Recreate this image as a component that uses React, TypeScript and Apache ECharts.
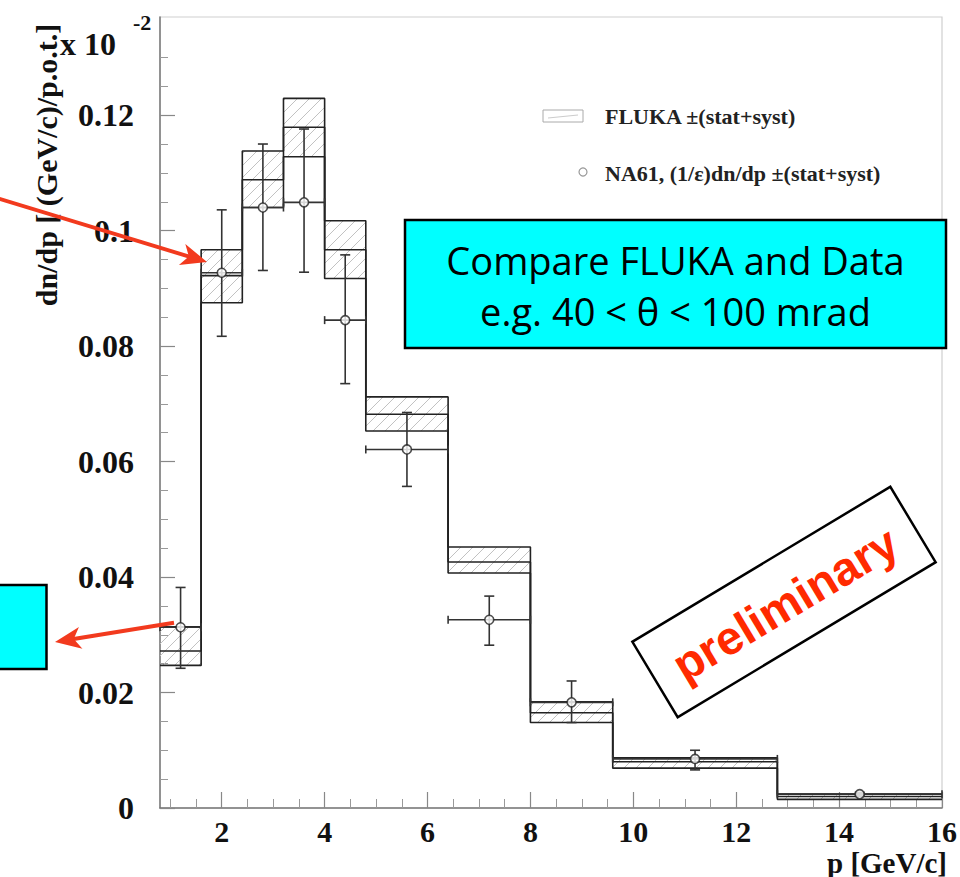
import React, { useEffect, useRef } from 'react';
import * as echarts from 'echarts';

// ---- data ----
const binLow = [0.8, 1.6, 2.4, 3.2, 4.0, 4.8, 6.4, 8.0, 9.6, 12.8];
const binHigh = [1.6, 2.4, 3.2, 4.0, 4.8, 6.4, 8.0, 9.6, 12.8, 16.0];
const flukaCentral = [0.0272, 0.0922, 0.1088, 0.1179, 0.0967, 0.0682, 0.0426, 0.0165, 0.0080, 0.0020];
const flukaUpper = [0.0314, 0.0967, 0.1138, 0.1229, 0.1017, 0.0712, 0.0452, 0.0184, 0.0087, 0.0024];
const flukaLower = [0.0247, 0.0875, 0.1040, 0.1128, 0.0917, 0.0653, 0.0407, 0.0148, 0.0069, 0.0015];
const dataP = [1.2, 2.0, 2.8, 3.6, 4.4, 5.6, 7.2, 8.8, 11.2, 14.4];
const dataValue = [0.0313, 0.0927, 0.1040, 0.1049, 0.0845, 0.0621, 0.0326, 0.0183, 0.0085, 0.0024];
const dataErrUp = [0.0382, 0.1036, 0.1150, 0.1176, 0.0958, 0.0685, 0.0367, 0.0220, 0.0100, 0.0027];
const dataErrDown = [0.0242, 0.0817, 0.0931, 0.0928, 0.0735, 0.0557, 0.0282, 0.0148, 0.0066, 0.0021];
const xMajorTicks = [2, 4, 6, 8, 10, 12, 14, 16];
const xMinorTicks = [1, 1.5, 2.5, 3, 3.5, 4.5, 5, 5.5, 6.5, 7, 7.5, 8.5, 9, 9.5, 10.5, 11, 11.5, 12.5, 13, 13.5, 14.5, 15, 15.5];
const yMajorTicks = [0, 0.02, 0.04, 0.06, 0.08, 0.1, 0.12];
const yMinorTicks = [0.005, 0.01, 0.015, 0.025, 0.03, 0.035, 0.045, 0.05, 0.055, 0.065, 0.07, 0.075, 0.085, 0.09, 0.095, 0.105, 0.11, 0.115, 0.125, 0.13];

const serif = '"Liberation Serif", "Times New Roman", serif';
const red = '#f23a1e';

function stepData(vals: number[]) {
  const d: number[][] = binLow.map((x, i) => [x, vals[i]]);
  d.push([binHigh[binHigh.length - 1], vals[vals.length - 1]]);
  return d;
}

function arrowHead(sx: number, sy: number, tx: number, ty: number, len: number, half: number, notch: number) {
  const dx = tx - sx, dy = ty - sy;
  const L = Math.hypot(dx, dy);
  const ux = dx / L, uy = dy / L;
  const nx = -uy, ny = ux;
  const bx = tx - len * ux, by = ty - len * uy;
  return [
    [tx, ty],
    [bx + half * nx, by + half * ny],
    [tx - notch * ux, ty - notch * uy],
    [bx - half * nx, by - half * ny],
  ];
}

export default function App() {
  const ref = useRef<HTMLDivElement>(null);
  useEffect(() => {
    if (!ref.current) return;
    const chart = echarts.init(ref.current, undefined, { renderer: 'svg' });
    const lineSeries = (vals: number[]) => ({
      type: 'line',
      step: 'end',
      showSymbol: false,
      symbol: 'none',
      data: stepData(vals),
      lineStyle: { color: '#222', width: 1.6 },
      z: 3,
      silent: true,
    });
    const a1 = arrowHead(0, 199, 207, 262, 26, 11, 19);
    const a2 = arrowHead(173, 623, 55, 642, 26, 11, 19);
    const option: any = {
      animation: false,
      backgroundColor: '#fff',
      grid: { left: 160, right: 12, top: 17, bottom: 69, show: true, borderColor: '#cfcfcf', borderWidth: 1.2 },
      xAxis: [
        {
          type: 'value', min: 0.8, max: 16, position: 'bottom',
          axisLine: { show: true, lineStyle: { color: '#777', width: 1.5 } },
          axisTick: { show: true, inside: true, length: 16, customValues: xMajorTicks, lineStyle: { color: '#888', width: 1.2 } },
          axisLabel: { show: true, customValues: xMajorTicks, margin: 11, lineHeight: 24, fontFamily: serif, fontWeight: 'bold', fontSize: 30, color: '#111' },
          splitLine: { show: false },
        },
        {
          type: 'value', min: 0.8, max: 16, position: 'bottom',
          axisLine: { show: false },
          axisTick: { show: true, inside: true, length: 9, customValues: xMinorTicks, lineStyle: { color: '#999', width: 1 } },
          axisLabel: { show: false },
          splitLine: { show: false },
        },
      ],
      yAxis: [
        {
          type: 'value', min: 0, max: 0.137, position: 'left',
          axisLine: { show: true, lineStyle: { color: '#777', width: 1.5 } },
          axisTick: { show: true, inside: true, length: 15, customValues: yMajorTicks, lineStyle: { color: '#888', width: 1.2 } },
          axisLabel: {
            show: true, customValues: yMajorTicks, margin: 26, fontFamily: serif, fontWeight: 'bold', fontSize: 32, color: '#111',
            formatter: (v: number) => (v === 0 ? '0' : String(parseFloat(v.toFixed(3)))),
          },
          splitLine: { show: false },
        },
        {
          type: 'value', min: 0, max: 0.137, position: 'left',
          axisLine: { show: false },
          axisTick: { show: true, inside: true, length: 8, customValues: yMinorTicks, lineStyle: { color: '#999', width: 1 } },
          axisLabel: { show: false },
          splitLine: { show: false },
        },
      ],
      series: [
        {
          type: 'custom',
          name: 'FLUKA band',
          coordinateSystem: 'cartesian2d',
          xAxisIndex: 0, yAxisIndex: 0,
          data: binLow.map((lo, i) => [lo, binHigh[i], flukaLower[i], flukaUpper[i]]),
          encode: { x: [0, 1], y: [2, 3] },
          z: 1,
          silent: true,
          renderItem: (params: any, api: any) => {
            const p0 = api.coord([api.value(0), api.value(3)]);
            const p1 = api.coord([api.value(1), api.value(2)]);
            const x0 = p0[0], y0 = p0[1], x1 = p1[0], y1 = p1[1];
            const step = 12;
            const children: any[] = [];
            for (let c = Math.ceil((x0 + y0) / step) * step; c < x1 + y1; c += step) {
              const xa = Math.max(x0, c - y1);
              const xb = Math.min(x1, c - y0);
              if (xb > xa + 0.5) {
                children.push({ type: 'line', shape: { x1: xa, y1: c - xa, x2: xb, y2: c - xb }, style: { stroke: '#c2c2c2', lineWidth: 1 } });
              }
            }
            return { type: 'group', children };
          },
        },
        lineSeries(flukaUpper),
        lineSeries(flukaCentral),
        lineSeries(flukaLower),
        {
          type: 'custom',
          name: 'NA61 errors',
          coordinateSystem: 'cartesian2d',
          xAxisIndex: 0, yAxisIndex: 0,
          data: dataP.map((x, i) => [x, dataValue[i], dataErrDown[i], dataErrUp[i], binLow[i], binHigh[i]]),
          encode: { x: [0, 4, 5], y: [1, 2, 3] },
          z: 4,
          silent: true,
          renderItem: (params: any, api: any) => {
            const x = api.value(0), y = api.value(1);
            const top = api.coord([x, api.value(3)]);
            const bot = api.coord([x, api.value(2)]);
            const left = api.coord([api.value(4), y]);
            const right = api.coord([api.value(5), y]);
            const st = { stroke: '#333', lineWidth: 1.6 };
            const cw = 5, ch = 4;
            return {
              type: 'group',
              children: [
                { type: 'line', shape: { x1: top[0], y1: top[1], x2: bot[0], y2: bot[1] }, style: st },
                { type: 'line', shape: { x1: top[0] - cw, y1: top[1], x2: top[0] + cw, y2: top[1] }, style: st },
                { type: 'line', shape: { x1: bot[0] - cw, y1: bot[1], x2: bot[0] + cw, y2: bot[1] }, style: st },
                { type: 'line', shape: { x1: left[0], y1: left[1], x2: right[0], y2: right[1] }, style: st },
                { type: 'line', shape: { x1: left[0], y1: left[1] - ch, x2: left[0], y2: left[1] + ch }, style: st },
                { type: 'line', shape: { x1: right[0], y1: right[1] - ch, x2: right[0], y2: right[1] + ch }, style: st },
              ],
            };
          },
        },
        {
          type: 'scatter',
          name: 'NA61',
          xAxisIndex: 0, yAxisIndex: 0,
          data: dataP.map((x, i) => [x, dataValue[i]]),
          symbol: 'circle',
          symbolSize: 9,
          itemStyle: { color: '#fff', borderColor: '#222', borderWidth: 1.6 },
          z: 5,
          silent: true,
        },
      ],
      graphic: [
        // axis titles
        { type: 'text', x: 46, y: 165, rotation: Math.PI / 2, style: { text: 'dn/dp [ (GeV/c)/p.o.t.]', font: `bold 30px ${serif}`, fill: '#111', align: 'center', verticalAlign: 'middle' } },
        { type: 'text', x: 60, y: 44, style: { text: 'x 10', font: `bold 32px ${serif}`, fill: '#111', align: 'left', verticalAlign: 'middle' } },
        { type: 'text', x: 133, y: 22, style: { text: '-2', font: `bold 22px ${serif}`, fill: '#111', align: 'left', verticalAlign: 'middle' } },
        { type: 'text', x: 947, y: 862.5, style: { text: 'p [GeV/c]', font: `bold 29px ${serif}`, lineHeight: 28, fill: '#111', align: 'right', verticalAlign: 'middle' } },
        // legend
        { type: 'rect', shape: { x: 543, y: 110, width: 40, height: 12 }, style: { fill: '#fff', stroke: '#aaa', lineWidth: 1 } },
        { type: 'line', shape: { x1: 548, y1: 118, x2: 578, y2: 115 }, style: { stroke: '#ccc', lineWidth: 1 } },
        { type: 'text', x: 605, y: 116, style: { text: 'FLUKA ±(stat+syst)', font: `bold 22px ${serif}`, fill: '#222', align: 'left', verticalAlign: 'middle' } },
        { type: 'circle', shape: { cx: 583, cy: 172, r: 4 }, style: { fill: '#fff', stroke: '#999', lineWidth: 1.2 } },
        { type: 'text', x: 605, y: 173, style: { text: 'NA61, (1/ε)dn/dp ±(stat+syst)', font: `bold 22px ${serif}`, fill: '#222', align: 'left', verticalAlign: 'middle' } },
        // right annotation box
        { type: 'rect', shape: { x: 405, y: 220, width: 541, height: 128 }, style: { fill: '#00ffff', stroke: '#000', lineWidth: 2.5 }, z: 10 },
        { type: 'text', x: 675.5, y: 260, style: { text: 'Compare FLUKA and Data', font: '38px "Open Sans", sans-serif', fill: '#000', align: 'center', verticalAlign: 'middle' }, z: 11 },
        { type: 'text', x: 675.5, y: 311, style: { text: 'e.g. 40 < θ < 100 mrad', font: '38px "Open Sans", sans-serif', fill: '#000', align: 'center', verticalAlign: 'middle' }, z: 11 },
        // left annotation box (cut at page edge)
        { type: 'rect', shape: { x: -4, y: 585, width: 50.5, height: 84 }, style: { fill: '#00ffff', stroke: '#000', lineWidth: 2.5 }, z: 10 },
        // preliminary stamp
        {
          type: 'group', x: 784, y: 602, rotation: 0.541, z: 10,
          children: [
            { type: 'rect', shape: { x: -150.5, y: -44, width: 301, height: 88 }, style: { fill: '#fff', stroke: '#000', lineWidth: 2.5 } },
            { type: 'text', x: 0, y: 2, style: { text: 'preliminary', font: 'bold 47px "Liberation Sans", Arial, sans-serif', fill: '#ff2a00', align: 'center', verticalAlign: 'middle' } },
          ],
        },
        // red arrows
        { type: 'line', shape: { x1: -2, y1: 198.4, x2: 190, y2: 256.8 }, style: { stroke: red, lineWidth: 4 }, z: 12 },
        { type: 'polygon', shape: { points: a1 }, style: { fill: red }, z: 12 },
        { type: 'line', shape: { x1: 174, y1: 622.8, x2: 72, y2: 639.3 }, style: { stroke: red, lineWidth: 4 }, z: 12 },
        { type: 'polygon', shape: { points: a2 }, style: { fill: red }, z: 12 },
      ],
    };
    chart.setOption(option);
    return () => chart.dispose();
  }, []);
  return <div ref={ref} style={{ position: 'absolute', left: 0, top: 0, width: 960, height: 877 }} />;
}
